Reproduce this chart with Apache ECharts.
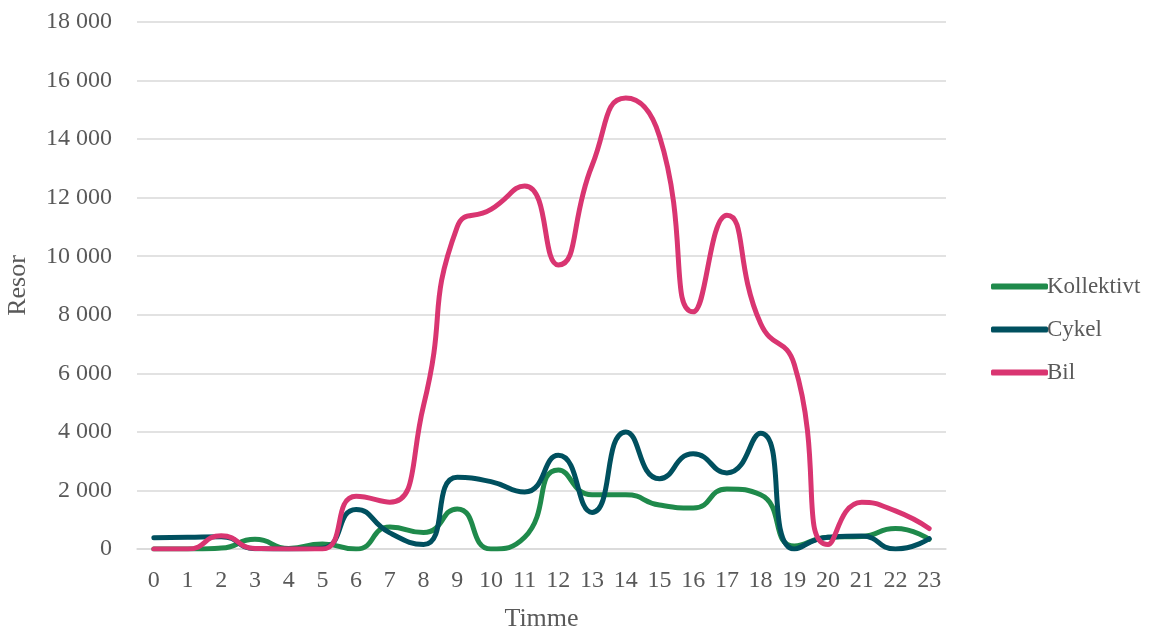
<!DOCTYPE html>
<html>
<head>
<meta charset="utf-8">
<script src="https://cdn.jsdelivr.net/npm/echarts@6/dist/echarts.min.js"></script>
<style>
  html, body { margin: 0; padding: 0; background: #fff; }
  #chart { width: 1154px; height: 632px; }
</style>
</head>
<body>
<div id="chart"></div>
<script>
// Resor per timme och färdsätt
const hours = ['0','1','2','3','4','5','6','7','8','9','10','11','12','13','14','15','16','17','18','19','20','21','22','23'];
const kollektivt = [0, 0, 30, 330, 20, 170, 0, 750, 560, 1370, 0, 400, 2700, 1850, 1850, 1500, 1400, 2050, 1850, 100, 400, 430, 700, 330];
const cykel = [380, 400, 420, 10, 0, 30, 1350, 550, 150, 2450, 2300, 1950, 3200, 1250, 4000, 2400, 3250, 2600, 3950, 0, 400, 440, 0, 350];
const bil = [0, 0, 450, 20, 0, 0, 1800, 1600, 4900, 11000, 11600, 12400, 9700, 13100, 15400, 14100, 8100, 11400, 7700, 6300, 150, 1600, 1300, 700];

const FONT = 'Liberation Serif';
const TEXT = '#595959';

function fmt(v) {
  return String(v).replace(/\B(?=(\d{3})+(?!\d))/g, ' ');
}

function line(name, data, color) {
  return {
    name: name,
    type: 'line',
    data: data,
    smooth: 0.55,
    symbol: 'none',
    lineStyle: { width: 5, color: color, cap: 'round', join: 'round' },
    itemStyle: { color: color }
  };
}

const chart = echarts.init(document.getElementById('chart'), null, { renderer: 'canvas' });
chart.setOption({
  animation: false,
  backgroundColor: '#ffffff',
  textStyle: { fontFamily: FONT },
  grid: { left: 137, right: 208, top: 22, bottom: 83, containLabel: false, outerBoundsMode: 'none' },
  legend: {
    orient: 'vertical',
    left: 986,
    top: 270,
    itemGap: 20,
    itemWidth: 57,
    itemHeight: 6,
    icon: 'roundRect',
    textStyle: { fontFamily: FONT, fontSize: 23, color: TEXT, padding: [0, 0, 0, -6] },
    data: ['Kollektivt', 'Cykel', 'Bil']
  },
  xAxis: {
    type: 'category',
    data: hours,
    boundaryGap: true,
    name: 'Timme',
    nameLocation: 'middle',
    nameGap: 57,
    nameTextStyle: { fontFamily: FONT, fontSize: 26, color: TEXT },
    axisLine: { show: true, lineStyle: { color: '#d9d9d9', width: 1.5 } },
    axisTick: { show: false },
    axisLabel: { fontFamily: FONT, fontSize: 24, color: TEXT, margin: 20 }
  },
  yAxis: {
    type: 'value',
    min: 0,
    max: 18000,
    interval: 2000,
    name: 'Resor',
    nameLocation: 'middle',
    nameGap: 106,
    nameRotate: 90,
    nameTextStyle: { fontFamily: FONT, fontSize: 26, color: TEXT },
    axisLine: { show: false },
    axisTick: { show: false },
    splitLine: { lineStyle: { color: '#d9d9d9', width: 1.5 } },
    axisLabel: { fontFamily: FONT, fontSize: 24, color: TEXT, margin: 25, formatter: fmt }
  },
  series: [
    line('Kollektivt', kollektivt, '#1f8a4b'),
    line('Cykel', cykel, '#00505f'),
    line('Bil', bil, '#d93571')
  ]
});
</script>
</body>
</html>
